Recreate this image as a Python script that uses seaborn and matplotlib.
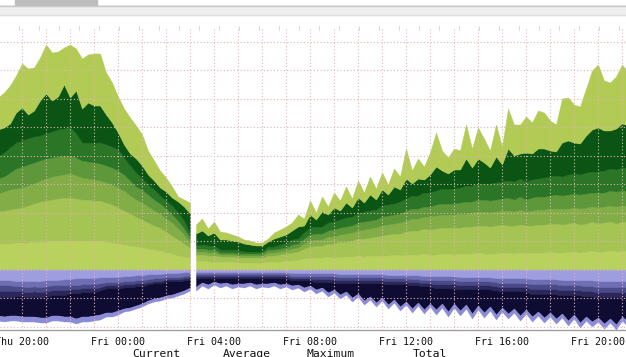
import numpy as np
import seaborn as sns
import matplotlib
matplotlib.use("Agg")
import matplotlib.pyplot as plt
from matplotlib.patches import Rectangle
from matplotlib.lines import Line2D

# hours counted from Thu 20:00, one sample every 15 minutes
# the graph has a short hole around Fri 03:00 so the data comes in two blocks
t_left = np.arange(-1.0, 7.0 + 0.01, 0.25)     # Thu 19:00 -> Fri 03:00
t_right = np.arange(7.25, 25.25 + 0.01, 0.25)  # Fri 03:15 -> Fri 21:15

tick_hours = [0, 4, 8, 12, 16, 20, 24]
tick_labels = ["Thu 20:00", "Fri 00:00", "Fri 04:00", "Fri 08:00",
               "Fri 12:00", "Fri 16:00", "Fri 20:00"]
legend_cols = ["Current", "Average", "Maximum", "Total"]

# inbound (stacked upwards), bottom layer first
in1_left = [26, 26, 26, 27, 27, 27, 28, 28, 28, 29, 29, 29, 29, 29, 29, 29, 29,
            29, 28, 27, 26, 25, 24, 23, 22, 21, 20, 19, 17, 16, 14, 13, 12]
in2_left = [32, 33, 34, 34, 35, 37, 38, 40, 41, 41, 42, 43, 43, 42, 41, 41, 40,
            40, 39, 38, 36, 34, 32, 30, 28, 26, 24, 23, 21, 18, 16, 13, 10]
in3_left = [18, 19, 20, 20, 20, 20, 20, 21, 22, 23, 23, 23, 24, 23, 22, 21, 21,
            20, 20, 20, 20, 20, 18, 17, 17, 16, 15, 14, 13, 13, 11, 9, 5]
in4_left = [15, 15, 17, 20, 21, 21, 21, 20, 20, 19, 19, 19, 18, 18, 17, 17, 17,
            17, 17, 17, 17, 16, 15, 13, 13, 12, 11, 10, 10, 8, 8, 6, 5]
in5_left = [22, 24, 25, 26, 26, 26, 26, 25, 25, 26, 27, 27, 28, 24, 18, 19, 20,
            21, 21, 21, 21, 17, 15, 14, 11, 10, 10, 8, 8, 9, 8, 8, 4]
in6_left = [27, 25, 24, 30, 33, 24, 26, 35, 40, 31, 33, 44, 30, 43, 34, 40, 37,
            37, 30, 24, 17, 13, 12, 14, 13, 10, 9, 8, 9, 8, 11, 14, 20]
in7_left = [32, 35, 38, 37, 44, 46, 43, 43, 49, 48, 45, 37, 53, 42, 50, 48, 52,
            52, 42, 40, 36, 36, 36, 33, 31, 24, 20, 17, 14, 11, 5, 7, 11]

in1_right = [9, 9, 8, 8, 8, 8, 8, 7, 7, 7, 7, 7, 8, 8, 8, 9, 9, 10,
             11, 12, 12, 12, 13, 12, 13, 13, 13, 14, 13, 14, 14, 14, 14, 15, 14, 15,
             15, 15, 16, 15, 15, 16, 16, 15, 16, 16, 16, 17, 16, 16, 16, 17, 17, 16,
             17, 16, 17, 17, 17, 18, 17, 17, 18, 18, 17, 18, 19, 18, 18, 19, 18, 19, 19]
in2_right = [6, 6, 6, 6, 5, 5, 5, 5, 5, 5, 5, 5, 6, 6, 7, 7, 8, 8,
             10, 11, 12, 12, 13, 14, 15, 15, 16, 17, 18, 18, 19, 20, 21, 21, 22, 23,
             24, 24, 25, 25, 26, 26, 26, 27, 26, 27, 27, 27, 28, 27, 28, 28, 27, 28,
             28, 28, 27, 28, 28, 28, 29, 28, 28, 29, 28, 28, 29, 28, 29, 29, 28, 29, 29]
in3_right = [3, 3, 3, 3, 2, 2, 2, 2, 2, 2, 2, 2, 3, 3, 3, 3, 4, 4,
             5, 6, 6, 6, 7, 7, 7, 8, 8, 8, 9, 9, 9, 10, 10, 10, 11, 11,
             12, 12, 12, 13, 13, 13, 13, 13, 14, 13, 14, 14, 14, 14, 14, 14, 15, 14,
             15, 14, 15, 15, 15, 15, 15, 16, 15, 15, 16, 16, 15, 16, 16, 16, 17, 16, 16]
in4_right = [3, 3, 3, 3, 2, 2, 2, 2, 2, 2, 2, 2, 3, 3, 3, 3, 4, 4,
             5, 6, 6, 6, 6, 7, 7, 7, 7, 8, 8, 8, 8, 9, 9, 9, 9, 10,
             10, 10, 10, 10, 11, 11, 11, 11, 11, 12, 11, 12, 12, 12, 12, 12, 13, 12,
             13, 12, 13, 13, 13, 13, 14, 13, 14, 14, 14, 14, 14, 15, 14, 15, 15, 15, 15]
in5_right = [4, 4, 4, 4, 3, 3, 3, 3, 2, 2, 2, 2, 3, 3, 4, 4, 5, 5,
             6, 7, 7, 7, 8, 8, 8, 9, 9, 9, 10, 10, 10, 11, 11, 11, 12, 12,
             13, 13, 14, 14, 14, 15, 15, 15, 15, 16, 16, 16, 16, 17, 17, 17, 17, 18,
             18, 18, 18, 18, 19, 19, 19, 19, 20, 20, 20, 21, 21, 21, 22, 22, 22, 23, 23]
in6_right = [11, 14, 10, 13, 10, 10, 9, 9, 8, 7, 6, 6, 5, 8, 8, 9, 9, 12,
             7, 13, 7, 15, 8, 14, 9, 15, 9, 16, 9, 16, 10, 16, 10, 17, 12, 20,
             12, 17, 13, 18, 24, 18, 15, 19, 18, 27, 18, 25, 21, 16, 26, 17, 32, 26,
             25, 29, 26, 30, 29, 26, 24, 34, 34, 31, 31, 37, 42, 44, 40, 38, 41, 44, 42]
in7_right = [9, 12, 7, 11, 8, 7, 6, 5, 4, 4, 3, 3, 3, 6, 7, 8, 8, 12,
             7, 14, 7, 15, 8, 15, 10, 16, 9, 17, 10, 18, 11, 17, 10, 18, 13, 30,
             13, 20, 13, 22, 34, 20, 16, 21, 19, 34, 19, 31, 24, 17, 32, 18, 40, 31,
             29, 36, 31, 38, 36, 30, 27, 44, 43, 38, 37, 47, 59, 63, 50, 48, 52, 59, 53]

# outbound (stacked downwards), layer next to zero first
out1_left = [11, 11, 11, 12, 12, 12, 12, 12, 11, 11, 11, 10, 10, 9, 9, 9, 9,
             8, 8, 8, 8, 7, 7, 6, 6, 5, 5, 5, 4, 4, 4, 3, 3]
out2_left = [5, 5, 5, 5, 5, 6, 5, 6, 6, 5, 5, 6, 6, 7, 6, 6, 6,
             6, 5, 5, 5, 5, 5, 5, 5, 5, 4, 4, 4, 4, 4, 4, 3]
out3_left = [6, 6, 6, 5, 5, 5, 5, 5, 5, 5, 5, 5, 4, 4, 4, 4, 4,
             4, 3, 3, 3, 3, 3, 3, 3, 3, 3, 3, 2, 2, 2, 2, 2]
out4_left = [6, 6, 6, 5, 5, 5, 5, 5, 5, 5, 5, 5, 4, 4, 4, 4, 4,
             3, 3, 3, 3, 3, 3, 3, 3, 2, 2, 2, 2, 2, 2, 2, 2]
out5_left = [18, 19, 18, 19, 20, 19, 20, 20, 21, 20, 20, 21, 23, 25, 24, 24, 23,
             24, 24, 24, 22, 21, 20, 19, 17, 16, 15, 14, 14, 13, 11, 10, 8]
out6_left = [5, 5, 5, 5, 5, 5, 5, 5, 5, 5, 5, 5, 5, 5, 5, 5, 5,
             5, 4, 4, 4, 3, 3, 3, 3, 3, 3, 3, 3, 3, 3, 3, 3]

out1_right = [3, 3, 3, 3, 3, 3, 3, 3, 3, 3, 3, 3, 3, 3, 3, 3, 4, 4,
              4, 4, 4, 4, 4, 4, 5, 5, 5, 5, 5, 5, 5, 5, 6, 6, 6, 6,
              6, 6, 7, 7, 7, 7, 7, 7, 8, 8, 8, 8, 8, 8, 9, 9, 9, 9,
              9, 9, 10, 10, 10, 10, 10, 11, 11, 11, 11, 11, 11, 12, 12, 12, 12, 12, 12]
out2_right = [2, 2, 2, 2, 2, 2, 2, 2, 2, 2, 2, 2, 2, 2, 2, 2, 3, 3,
              3, 3, 3, 3, 3, 3, 3, 3, 3, 3, 3, 3, 3, 3, 3, 3, 3, 3,
              4, 4, 4, 4, 4, 4, 4, 4, 4, 4, 4, 4, 4, 4, 4, 5, 5, 5,
              5, 5, 5, 5, 5, 5, 5, 5, 5, 5, 5, 6, 6, 6, 6, 6, 6, 6, 6]
out3_right = [2, 2, 2, 2, 2, 2, 2, 2, 2, 2, 2, 2, 2, 2, 2, 2, 2, 2,
              2, 2, 3, 3, 3, 3, 3, 3, 3, 3, 3, 3, 3, 3, 3, 3, 3, 3,
              3, 3, 3, 3, 4, 4, 4, 4, 4, 4, 4, 4, 4, 4, 4, 4, 4, 4,
              4, 4, 5, 5, 5, 5, 5, 5, 5, 5, 5, 5, 5, 5, 5, 5, 5, 5, 5]
out4_right = list(out3_right)
out5_right = [8, 4, 6, 3, 5, 4, 6, 5, 5, 4, 6, 5, 5, 4, 6, 5, 5, 4,
              7, 5, 7, 5, 10, 7, 11, 8, 14, 10, 17, 13, 19, 14, 20, 15, 22, 17,
              23, 17, 23, 17, 21, 15, 23, 15, 21, 15, 24, 16, 23, 17, 24, 16, 22, 17,
              24, 18, 22, 17, 23, 18, 24, 18, 25, 19, 27, 20, 25, 20, 26, 21, 27, 19, 24]
out6_right = [4, 3, 4, 3, 4, 3, 4, 3, 4, 3, 4, 3, 4, 3, 4, 3, 4, 3,
              4, 3, 4, 3, 4, 3, 4, 3, 4, 3, 4, 3, 4, 3, 4, 3, 4, 3,
              4, 3, 4, 3, 5, 4, 5, 4, 5, 4, 5, 4, 5, 4, 5, 4, 5, 4,
              5, 4, 5, 4, 5, 4, 5, 4, 5, 4, 5, 4, 5, 4, 5, 4, 5, 4, 5]

in_colors = ["#b9d15d", "#a5c453", "#83ae47", "#5f983a", "#2a7526", "#0b5514", "#b1cb55"]
out_colors = ["#9d9de0", "#6e6eb4", "#4a4a88", "#2a285a", "#0f0c33", "#8b8bd6"]

grid_step = 28.5

sns.set_style("white")
plt.rcParams['font.family'] = ['DejaVu Sans Mono', 'DejaVu Sans']

fig = plt.figure(figsize=(6.26, 3.57), dpi=100)
ax = fig.add_axes([0, 27 / 357, 1, 303 / 357])

blocks = [
    (t_left, [in1_left, in2_left, in3_left, in4_left, in5_left, in6_left, in7_left],
     [out1_left, out2_left, out3_left, out4_left, out5_left, out6_left]),
    (t_right, [in1_right, in2_right, in3_right, in4_right, in5_right, in6_right, in7_right],
     [out1_right, out2_right, out3_right, out4_right, out5_right, out6_right]),
]
for t, ins, outs in blocks:
    ax.stackplot(t, *ins, colors=in_colors, edgecolor="face", linewidth=0.3)
    ax.stackplot(t, *[-np.array(o) for o in outs], colors=out_colors,
                 edgecolor="face", linewidth=0.3)

ax.set_xlim(-22 / 24, 604 / 24)
ax.set_ylim(-60.5, 242.5)

# grid: every hour and every grid step, dotted pink drawn over the areas
ax.set_xticks(tick_hours)
ax.set_xticklabels(tick_labels)
ax.set_xticks(range(0, 26), minor=True)
ax.set_yticks(np.arange(-2, 9) * grid_step)
ax.set_yticklabels([])
ax.set_axisbelow(False)
ax.grid(True, which="both", color="#e3b3b3", linestyle=(0, (1, 2)), linewidth=0.8)
ax.tick_params(axis="x", which="both", direction="in", length=2, color="#999999",
               labelsize=7.2, pad=5, labelcolor="#111111")
ax.tick_params(axis="y", length=0)

sns.despine(ax=ax, left=True, right=True, top=True)
ax.spines["bottom"].set_color("#a0a0a0")
ax.spines["bottom"].set_linewidth(1)

# legend header (cut off at the bottom of the image)
for name, xc in zip(legend_cols, [156, 247, 331, 430]):
    fig.text(xc / 626, 1 - 349 / 357, name, ha="center", va="top",
             fontsize=8.2, color="#111111")

# page chrome above the graph
fig.patches.append(Rectangle((0, 1 - 14.5 / 357), 1, 9 / 357, transform=fig.transFigure,
                             color="#eeeeee", zorder=0))
fig.lines.append(Line2D([0, 1], [1 - 5.5 / 357] * 2, transform=fig.transFigure,
                        color="#c8c8c8", linewidth=1))
fig.lines.append(Line2D([0, 1], [1 - 14.5 / 357] * 2, transform=fig.transFigure,
                        color="#dedede", linewidth=1))
fig.patches.append(Rectangle((15 / 626, 1 - 5 / 357), 82 / 626, 5 / 357,
                             transform=fig.transFigure, color="#bdbdbd", zorder=1))
for xp in range(19, 626, 20):
    fig.lines.append(Line2D([xp / 626] * 2, [1 - 26 / 357, 1 - 30 / 357],
                            transform=fig.transFigure, color="#dcdcdc", linewidth=0.8))

fig.savefig("out.png", dpi=100)
